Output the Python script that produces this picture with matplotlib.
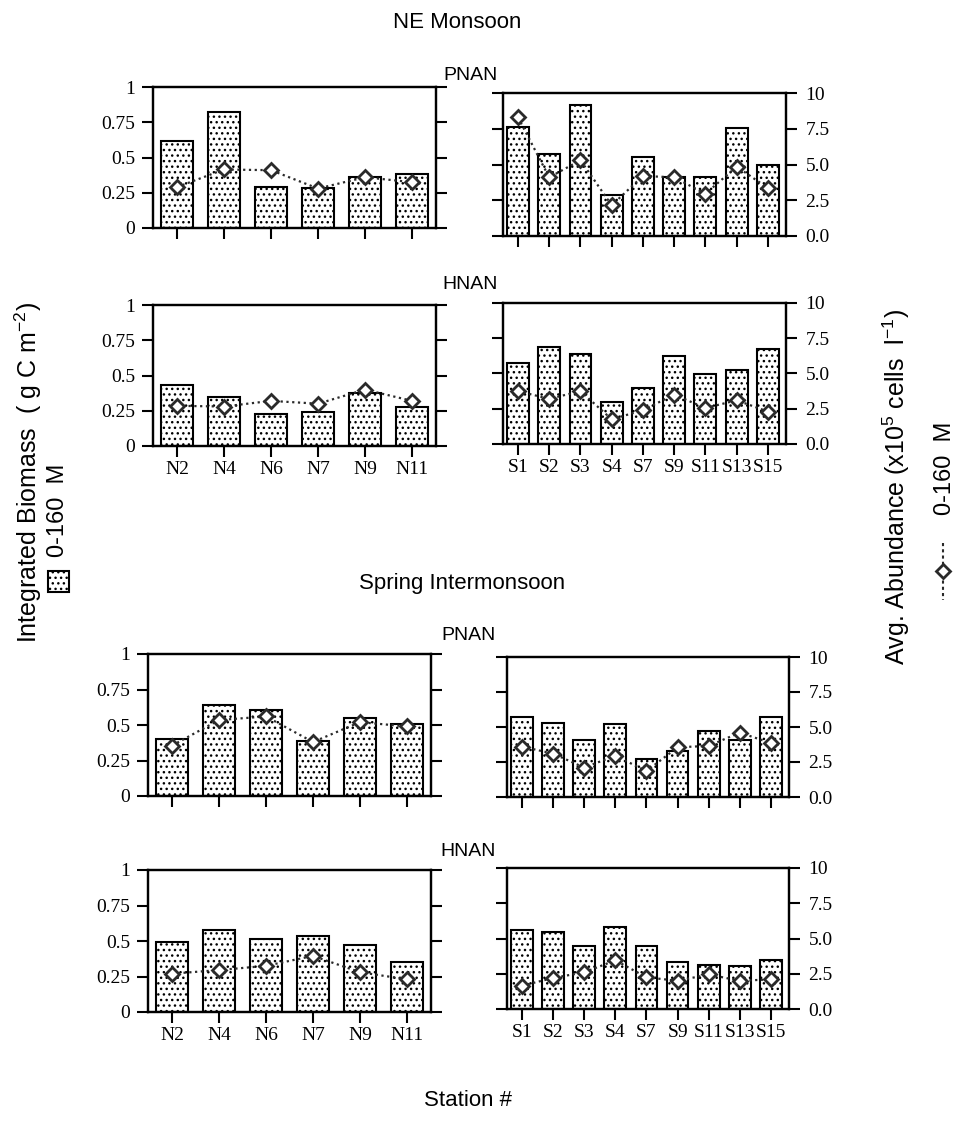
import numpy as np
import matplotlib
matplotlib.use("Agg")
import matplotlib.pyplot as plt
from matplotlib.patches import Rectangle
from matplotlib.lines import Line2D

# ---------------- data ----------------
n_stations = ['N2', 'N4', 'N6', 'N7', 'N9', 'N11']
s_stations = ['S1', 'S2', 'S3', 'S4', 'S7', 'S9', 'S11', 'S13', 'S15']

# Integrated biomass (g C m-2), 0-160 m
ne_pnan_n_biomass = [0.62, 0.82, 0.29, 0.285, 0.36, 0.38]
ne_pnan_s_biomass = [0.76, 0.575, 0.915, 0.285, 0.55, 0.415, 0.415, 0.755, 0.50]
ne_hnan_n_biomass = [0.435, 0.35, 0.225, 0.24, 0.378, 0.28]
ne_hnan_s_biomass = [0.575, 0.69, 0.635, 0.30, 0.40, 0.625, 0.495, 0.525, 0.675]
si_pnan_n_biomass = [0.40, 0.64, 0.605, 0.39, 0.55, 0.51]
si_pnan_s_biomass = [0.575, 0.53, 0.41, 0.52, 0.27, 0.33, 0.475, 0.41, 0.575]
si_hnan_n_biomass = [0.49, 0.575, 0.513, 0.535, 0.475, 0.35]
si_hnan_s_biomass = [0.56, 0.545, 0.45, 0.58, 0.445, 0.33, 0.315, 0.305, 0.345]

# Avg. abundance (x10^5 cells l-1), 0-160 m
ne_pnan_n_abund = [2.9, 4.15, 4.1, 2.8, 3.6, 3.25]
ne_pnan_s_abund = [8.3, 4.1, 5.3, 2.15, 4.2, 4.1, 2.95, 4.85, 3.35]
ne_hnan_n_abund = [2.85, 2.8, 3.2, 3.0, 4.0, 3.2]
ne_hnan_s_abund = [3.75, 3.2, 3.75, 1.75, 2.4, 3.5, 2.55, 3.1, 2.3]
si_pnan_n_abund = [3.55, 5.35, 5.6, 3.8, 5.2, 4.9]
si_pnan_s_abund = [3.6, 3.1, 2.1, 2.95, 1.85, 3.55, 3.65, 4.6, 3.85]
si_hnan_n_abund = [2.7, 2.95, 3.25, 3.95, 2.8, 2.3]
si_hnan_s_abund = [1.65, 2.2, 2.6, 3.45, 2.25, 2.0, 2.45, 2.0, 2.1]

left_ticks = [0, 0.25, 0.5, 0.75, 1]
left_ticklabels = ['0', '0.25', '0.5', '0.75', '1']
right_ticks = [0, 2.5, 5, 7.5, 10]
right_ticklabels = ['0.0', '2.5', '5.0', '7.5', '10']

# ---------------- style ----------------
plt.rcParams['hatch.linewidth'] = 1.0
plt.rcParams['mathtext.fontset'] = 'custom'
plt.rcParams['mathtext.rm'] = 'Liberation Sans'
plt.rcParams['mathtext.it'] = 'Liberation Sans:italic'
SERIF = 'Liberation Serif'
SANS = 'Liberation Sans'
LINEC = '#2a2a2a'

W, H = 963, 1123
fig = plt.figure(figsize=(W / 100, H / 100), dpi=100)
fig.patch.set_facecolor('white')


def rect(x0, x1, yt, yb):
    return [x0 / W, 1 - yb / H, (x1 - x0) / W, (yb - yt) / H]


def panel(r, labels, biomass, abund, side, show_xlabels):
    ax = fig.add_axes(rect(*r))
    x = np.arange(len(labels))
    ax.bar(x, biomass, width=0.7, color='white', edgecolor='black',
           hatch='...', linewidth=1.5, zorder=2)
    ax.set_ylim(0, 1)
    if side == 'left':
        ax.set_xlim(-0.51, len(labels) - 0.49)
    else:
        ax.set_xlim(-0.48, len(labels) - 0.42)
    ax2 = ax.twinx()
    ax2.set_ylim(0, 10)
    ax2.plot(x, abund, linestyle=(0, (1, 1.6)), color=LINEC, lw=1.6,
             marker='D', ms=7, mfc='white', mec=LINEC, mew=2.0, zorder=3)
    for a in (ax, ax2):
        for s in a.spines.values():
            s.set_linewidth(1.6)
    ax.set_xticks(x)
    ax.set_xticklabels(labels if show_xlabels else [''] * len(labels),
                       fontfamily=SERIF, fontsize=14)
    ax.set_yticks(left_ticks)
    ax2.set_yticks(right_ticks)
    if side == 'left':
        ax.set_yticklabels(left_ticklabels, fontfamily=SERIF, fontsize=14)
        ax2.set_yticklabels([''] * 5)
    else:
        ax.set_yticklabels([''] * 5)
        ax2.set_yticklabels(right_ticklabels, fontfamily=SERIF, fontsize=14)
    ax.tick_params(axis='y', direction='out', length=8, width=1.5, pad=5)
    ax2.tick_params(axis='y', direction='out', length=8, width=1.5, pad=6)
    ax.tick_params(axis='x', direction='out', length=8, width=1.5, pad=3)
    return ax, ax2


# row 1: NE PNAN
panel((153, 436, 87, 228), n_stations, ne_pnan_n_biomass, ne_pnan_n_abund, 'left', False)
panel((503, 786, 93, 236), s_stations, ne_pnan_s_biomass, ne_pnan_s_abund, 'right', False)
# row 2: NE HNAN
panel((153, 436, 305, 446), n_stations, ne_hnan_n_biomass, ne_hnan_n_abund, 'left', True)
panel((503, 786, 303, 444), s_stations, ne_hnan_s_biomass, ne_hnan_s_abund, 'right', True)
# row 3: SI PNAN
panel((148, 431, 654, 796), n_stations, si_pnan_n_biomass, si_pnan_n_abund, 'left', False)
panel((507, 789, 657, 797), s_stations, si_pnan_s_biomass, si_pnan_s_abund, 'right', False)
# row 4: SI HNAN
panel((148, 431, 870, 1012), n_stations, si_hnan_n_biomass, si_hnan_n_abund, 'left', True)
panel((507, 789, 868, 1009), s_stations, si_hnan_s_biomass, si_hnan_s_abund, 'right', True)


def ftext(x, y, s, **kw):
    fig.text(x / W, 1 - y / H, s, ha='center', va='center', fontfamily=SANS, **kw)


ftext(457, 22, 'NE Monsoon', fontsize=16)
ftext(470, 75, 'PNAN', fontsize=14)
ftext(470, 284, 'HNAN', fontsize=14)
ftext(462, 583, 'Spring Intermonsoon', fontsize=16)
ftext(468, 636, 'PNAN', fontsize=14)
ftext(468, 852, 'HNAN', fontsize=14)
ftext(468, 1100, 'Station #', fontsize=16)

# left axis label + legend
ftext(28, 472, r'Integrated Biomass  ( g C m$^{-2}$)', fontsize=18, rotation=90)
ftext(58, 510, '0-160  M', fontsize=17, rotation=90)
fig.patches.append(Rectangle((48 / W, 1 - 592 / H), 21 / W, 21 / H,
                             transform=fig.transFigure, facecolor='white',
                             edgecolor='black', hatch='...', linewidth=1.5))

# right axis label + legend
ftext(896, 487, r'Avg. Abundance (x10$^{5}$ cells  l$^{-1}$)', fontsize=18, rotation=90)
ftext(945, 468, '0-160  M', fontsize=17, rotation=90)
fig.add_artist(Line2D([943 / W, 943 / W], [1 - 543 / H, 1 - 600 / H],
                      transform=fig.transFigure, linestyle=(0, (1.5, 1.5)),
                      color=LINEC, lw=1.5))
fig.add_artist(Line2D([943 / W], [1 - 571 / H], transform=fig.transFigure,
                      marker='D', ms=7, mfc='white', mec=LINEC, mew=2.0,
                      linestyle='none'))

fig.savefig('out.png', dpi=100, facecolor='white')
